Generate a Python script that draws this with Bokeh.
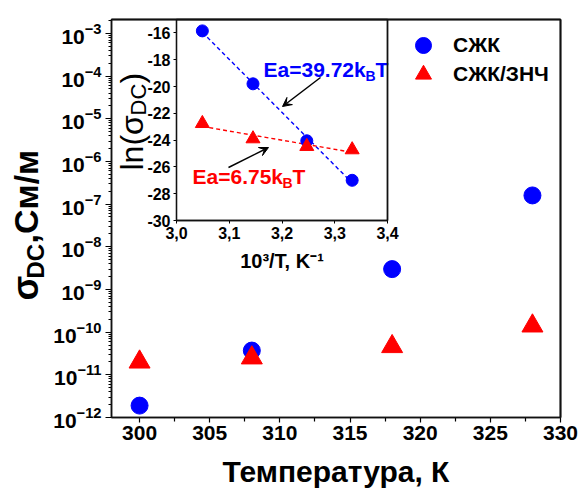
import numpy as np
from bokeh.plotting import figure
from bokeh.models import (Range1d, LinearAxis, LogAxis, LinearScale, FixedTicker, Arrow, VeeHead,
                          Legend, LegendItem, CustomJSTickFormatter, ColumnDataSource, BoxAnnotation)
from bokeh.core.properties import value
from bokeh.embed import file_html
from bokeh.resources import INLINE

# ---------------- data ----------------
temperature = [300, 308, 318, 328]
sigma_szk = [1.9e-12, 3.7e-11, 3.0e-9, 1.6e-7]
sigma_szk_znch = [2.0e-11, 2.5e-11, 4.6e-11, 1.4e-10]

inv_temperature = [3.333, 3.247, 3.145, 3.049]
ln_sigma_szk = [-27.0, -24.05, -19.8, -15.85]
ln_sigma_szk_znch = [-24.72, -24.47, -23.9, -22.76]

series_names = ["СЖК", "СЖК/ЗНЧ"]
x_ticks = [300, 305, 310, 315, 320, 325, 330]
x_minor_ticks = [302.5, 307.5, 312.5, 317.5, 322.5, 327.5]
y_exponents = [-12, -11, -10, -9, -8, -7, -6, -5, -4, -3]
inset_x_ticks = [3.0, 3.1, 3.2, 3.3, 3.4]
inset_y_ticks = [-30, -28, -26, -24, -22, -20, -18, -16]
ea_szk = "39.72"
ea_szk_znch = "6.75"

# ---------------- layout constants ----------------
W, H = 579, 492
FL, FR, FT, FB = 111, 560, 19, 417          # main plot box (px)
X0, X1 = 298, 330
LOGY0, LOGY1 = -12, -2.673
IL, IR, IT, IB = 176, 387, 19, 220          # inset box (px)
IX0, IX1, IY0, IY1 = 3.0, 3.4, -30, -15

BLUE = "#0000ff"
RED = "#ff0000"
FONT = "Liberation Sans"
AXC = "#111111"
MID = 0.3465     # (ascent - descent) / 2 of the font, in em

kx = (X1 - X0) / (FR - FL)
ky = (LOGY1 - LOGY0) / (FB - FT)
ipx = (IX1 - IX0) / (IR - IL)
ipy = (IY1 - IY0) / (IB - IT)


def ix(px):
    return IX0 + (px - IL) * ipx


def iy(py):
    return IY0 + (IB - py) * ipy


# the frame fills the whole canvas; the axes are drawn at fixed locations
p = figure(width=W, height=H,
           x_range=Range1d(X0 - FL * kx, X1 + (W - FR) * kx),
           y_range=Range1d(10 ** (LOGY0 - (H - FB) * ky), 10 ** (LOGY1 + FT * ky)),
           y_axis_type="log", x_axis_location=None, y_axis_location=None,
           output_backend="svg", toolbar_location=None,
           min_border_left=0, min_border_right=0, min_border_top=0, min_border_bottom=0)
p.background_fill_color = "white"
p.border_fill_color = "white"
p.outline_line_alpha = 0
p.grid.visible = False

p.extra_x_ranges = {"ix": Range1d(ix(0), ix(W))}
p.extra_y_ranges = {"iy": Range1d(iy(H), iy(0))}
p.extra_x_scales = {"ix": LinearScale()}
p.extra_y_scales = {"iy": LinearScale()}

# ---------------- plot boxes (main and inset) ----------------
p.add_layout(BoxAnnotation(left=X0, right=X1, bottom=10.0 ** LOGY0, top=10.0 ** LOGY1,
                           fill_alpha=0, line_color=AXC, line_alpha=1, line_width=1.5))
p.add_layout(BoxAnnotation(left=IX0, right=IX1, bottom=IY0, top=IY1,
                           x_range_name="ix", y_range_name="iy",
                           fill_alpha=0, line_color=AXC, line_alpha=1, line_width=1.3))
# the same edges once more as head-less arrows and as a multi-line
edges_main = [((X0, 10.0 ** LOGY1), (X1, 10.0 ** LOGY1)),
              ((X1, 10.0 ** LOGY1), (X1, 10.0 ** LOGY0))]
for (xa, ya), (xb, yb) in edges_main:
    p.add_layout(Arrow(x_start=xa, y_start=ya, x_end=xb, y_end=yb, end=None,
                       line_color=AXC, line_width=1.5))
p.add_layout(Arrow(x_start=IX1, y_start=IY0, x_end=IX1, y_end=IY1, end=None,
                   x_range_name="ix", y_range_name="iy", line_color=AXC, line_width=1.3))
p.multi_line(xs=[[X0, X1, X1]], ys=[[10.0 ** LOGY1, 10.0 ** LOGY1, 10.0 ** LOGY0]],
             line_color=AXC, line_width=1.5)
p.multi_line(xs=[[IX1, IX1]], ys=[[IY0, IY1]], x_range_name="ix", y_range_name="iy",
             line_color=AXC, line_width=1.3)

# ---------------- main axes ----------------
main_x = LinearAxis(fixed_location=10.0 ** LOGY0, bounds=(X0, X1),
                    ticker=FixedTicker(ticks=x_ticks, minor_ticks=x_minor_ticks))
main_x.axis_label = "Температура, К"
main_x.axis_label_text_font = FONT
main_x.axis_label_text_font_size = "30px"
main_x.axis_label_text_font_style = "bold"
main_x.axis_label_text_color = "black"
main_x.axis_label_standoff = 12
main_x.major_label_text_font = FONT
main_x.major_label_text_font_size = "21px"
main_x.major_label_text_font_style = "bold"
main_x.major_label_text_color = "black"
main_x.major_label_standoff = 3
main_x.major_tick_in = 0
main_x.major_tick_out = 5
main_x.minor_tick_in = 0
main_x.minor_tick_out = 4
main_x.axis_line_width = 1.5
main_x.axis_line_color = AXC
main_x.major_tick_line_width = 1.2
main_x.minor_tick_line_width = 1.2
p.add_layout(main_x, "below")

y_major = [10.0 ** e for e in y_exponents]
y_minor = [m * 10.0 ** e for e in y_exponents[:-1] for m in range(2, 10)] + [2e-3]
main_y = LogAxis(fixed_location=X0, bounds=(10.0 ** LOGY0, 10.0 ** LOGY1),
                 ticker=FixedTicker(ticks=y_major, minor_ticks=y_minor))
main_y.major_label_text_font = FONT
main_y.major_label_text_font_size = "21px"
main_y.major_label_text_font_style = "bold"
main_y.major_label_text_color = "black"
main_y.major_label_standoff = 4
main_y.major_tick_in = 0
main_y.major_tick_out = 6
main_y.minor_tick_in = 0
main_y.minor_tick_out = 3
main_y.axis_line_width = 1.5
main_y.axis_line_color = AXC
p.add_layout(main_y, "left")

# ---------------- inset axes ----------------
ax_il = LinearAxis(x_range_name="ix", y_range_name="iy", fixed_location=IX0,
                   bounds=(IY0, IY1), ticker=FixedTicker(ticks=inset_y_ticks, minor_ticks=[]),
                   formatter=CustomJSTickFormatter(code="return tick.toFixed(0)"))
ax_ib = LinearAxis(x_range_name="ix", y_range_name="iy", fixed_location=IY0,
                   bounds=(IX0, IX1), ticker=FixedTicker(ticks=inset_x_ticks, minor_ticks=[]),
                   formatter=CustomJSTickFormatter(code="return tick.toFixed(1).replace('.', ',')"))
for ax in (ax_il, ax_ib):
    ax.major_label_text_font = FONT
    ax.major_label_text_font_size = "16px"
    ax.major_label_text_font_style = "bold"
    ax.major_label_text_color = "black"
    ax.major_label_standoff = 3
    ax.major_tick_in = 0
    ax.major_tick_out = 3
    ax.minor_tick_in = 0
    ax.minor_tick_out = 0
    ax.axis_line_width = 1.3
    ax.axis_line_color = AXC
ax_ib.axis_label = "10³/T, K⁻¹"
ax_ib.axis_label_text_font = FONT
ax_ib.axis_label_text_font_size = "20px"
ax_ib.axis_label_text_font_style = "bold"
ax_ib.axis_label_text_color = "black"
ax_ib.axis_label_standoff = 8
p.add_layout(ax_il, "left")
p.add_layout(ax_ib, "below")

# ---------------- inset data ----------------
for xs, ys, col in ((inv_temperature, ln_sigma_szk, BLUE),
                    (inv_temperature, ln_sigma_szk_znch, RED)):
    k, b = np.polyfit(xs, ys, 1)
    xf = np.array([min(xs), max(xs)])
    p.line(xf, k * xf + b, x_range_name="ix", y_range_name="iy",
           line_color=col, line_width=1.4, line_dash="4 3")
p.scatter(inv_temperature, ln_sigma_szk, x_range_name="ix", y_range_name="iy",
          marker="circle", size=12, fill_color=BLUE, line_color=BLUE)
p.scatter(inv_temperature, ln_sigma_szk_znch, x_range_name="ix", y_range_name="iy",
          marker="triangle", size=14, fill_color=RED, line_color=RED)

# ---------------- main data ----------------
r_blue = p.scatter(temperature, sigma_szk, marker="circle", size=17,
                   fill_color=BLUE, line_color=BLUE)
r_red = p.scatter(temperature, sigma_szk_znch, marker="triangle", size=21,
                  fill_color=RED, line_color=RED)

for name, rend, (lx, lby) in ((series_names[0], r_blue, (403, 65)),
                              (series_names[1], r_red, (403, 94))):
    lg = Legend(items=[LegendItem(label=name, renderers=[rend])],
                location=(lx, H - lby), glyph_width=40, glyph_height=40,
                padding=0, margin=0, border_line_alpha=0, background_fill_alpha=0,
                label_text_font=FONT, label_text_font_size="21px",
                label_text_font_style="bold", label_text_color="black",
                label_standoff=10)
    p.add_layout(lg)


# ---------------- text pieces (text glyphs in inset coordinates) ----------------
# (px, py) is the left end of the baseline of the piece in canvas pixels
def txt(text, px, py, size, color="black", bold=True, rotated=False):
    if rotated:
        ax_, ay_, ang = px - MID * size, py, np.pi / 2
    else:
        ax_, ay_, ang = px, py - MID * size, 0.0
    src = ColumnDataSource(dict(x=[ix(ax_)], y=[iy(ay_)], t=[text]))
    p.text(x="x", y="y", text="t", source=src, x_range_name="ix", y_range_name="iy",
           text_font=value(FONT), text_font_size=f"{size}px",
           text_font_style="bold" if bold else "normal",
           text_color=color, text_align="left", text_baseline="middle", angle=ang)


# main y-axis title: σ_DC,См/м
txt("σ", 37, 300, 36, rotated=True)
txt("DC", 43, 278, 24, rotated=True)
txt(",См/м", 37, 243, 34, rotated=True)

# inset y-axis title: ln(σ_DC)
txt("ln(σ", 143, 170, 32, bold=False, rotated=True)
txt("DC", 146, 115, 22, bold=False, rotated=True)
txt(")", 143, 83, 32, bold=False, rotated=True)

# activation energies
txt("Ea=" + ea_szk + "k", 263, 76, 21, color=BLUE)
txt("B", 365, 80, 14, color=BLUE)
txt("T", 375, 76, 21, color=BLUE)
txt("Ea=" + ea_szk_znch + "k", 192, 183, 21, color=RED)
txt("B", 282, 187, 14, color=RED)
txt("T", 292, 183, 21, color=RED)

for (x0p, y0p, x1p, y1p) in ((320, 77, 282, 106), (228, 167, 268, 147)):
    p.add_layout(Arrow(x_start=ix(x0p), y_start=iy(y0p), x_end=ix(x1p), y_end=iy(y1p),
                       x_range_name="ix", y_range_name="iy",
                       line_color="black", line_width=1.5,
                       end=VeeHead(size=9, fill_color="black", line_color="black")))

open("out.html", "w").write(file_html(p, INLINE))
